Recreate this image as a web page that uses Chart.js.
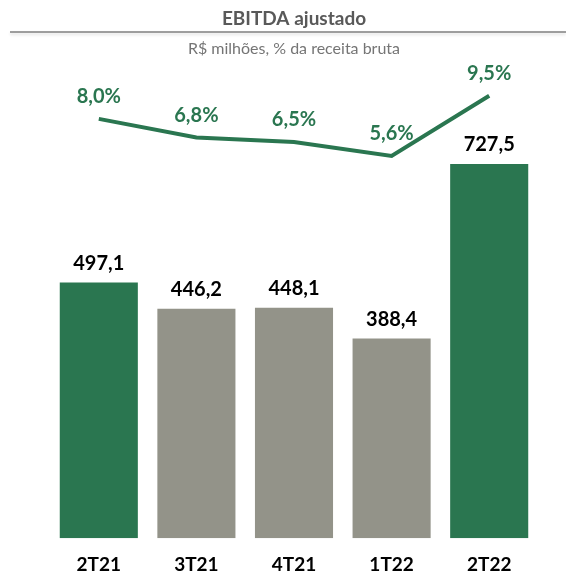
<!DOCTYPE html>
<html>
<head>
<meta charset="utf-8">
<script src="https://cdn.jsdelivr.net/npm/chart.js@4.4.0/dist/chart.umd.min.js"></script>
<style>
  html, body { margin: 0; padding: 0; background: #fff; }
  #wrap { width: 566px; height: 580px; }
</style>
</head>
<body>
<div id="wrap"><canvas id="ebitdaChart"></canvas></div>
<script>
(function(){
  // chart data
  const quarters = ['2T21', '3T21', '4T21', '1T22', '2T22'];
  const ebitda = [497.1, 446.2, 448.1, 388.4, 727.5];
  const margin = [8.0, 6.8, 6.5, 5.6, 9.5];

  const GREEN = '#2a7650';
  const GRAY = '#939389';
  const FONT = 'Lato, "Open Sans", sans-serif';

  const barColors = quarters.map(q => (q.startsWith('2T') ? GREEN : GRAY));

  function fmt(v, dec) {
    return v.toFixed(dec).replace('.', ',');
  }

  // draws the value above each bar / line point
  const valueLabels = {
    id: 'valueLabels',
    afterDatasetsDraw(chart) {
      const ctx = chart.ctx;
      ctx.save();
      ctx.textAlign = 'center';
      ctx.textBaseline = 'middle';
      chart.data.datasets.forEach((ds, i) => {
        const meta = chart.getDatasetMeta(i);
        meta.data.forEach((el, j) => {
          const v = ds.data[j];
          if (ds.type === 'line') {
            ctx.fillStyle = GREEN;
            ctx.font = 'bold 20px ' + FONT;
            ctx.fillText(fmt(v, 1) + '%', el.x, el.y - 22);
          } else {
            ctx.fillStyle = '#000';
            ctx.font = 'bold 20px ' + FONT;
            ctx.fillText(fmt(v, 1), el.x, el.y - 19);
          }
        });
      });
      ctx.restore();
    }
  };

  // rule under the title
  const titleRule = {
    id: 'titleRule',
    beforeDraw(chart) {
      const ctx = chart.ctx;
      ctx.save();
      ctx.shadowColor = 'rgba(0,0,0,0.15)';
      ctx.shadowBlur = 3;
      ctx.shadowOffsetY = 2;
      ctx.strokeStyle = '#7f7f7f';
      ctx.lineWidth = 1.5;
      ctx.beginPath();
      ctx.moveTo(10, 32);
      ctx.lineTo(chart.width, 32);
      ctx.stroke();
      ctx.restore();
    }
  };

  const ctx = document.getElementById('ebitdaChart').getContext('2d');
  new Chart(ctx, {
    data: {
      labels: quarters,
      datasets: [
        {
          type: 'line',
          label: '% da receita bruta',
          data: margin,
          yAxisID: 'yPct',
          borderColor: GREEN,
          borderWidth: 4,
          pointRadius: 0,
          tension: 0,
          order: 0
        },
        {
          type: 'bar',
          label: 'EBITDA ajustado',
          data: ebitda,
          yAxisID: 'yVal',
          backgroundColor: barColors,
          barPercentage: 0.8,
          categoryPercentage: 1,
          order: 1
        }
      ]
    },
    options: {
      responsive: true,
      maintainAspectRatio: false,
      animation: false,
      layout: { padding: { left: 50, right: 28, top: 0, bottom: -11 } },
      plugins: {
        legend: { display: false },
        tooltip: { enabled: false },
        title: {
          display: true,
          fullSize: false,
          text: 'EBITDA ajustado',
          color: '#595959',
          font: { family: FONT, size: 19, weight: 'bold' },
          padding: { top: 7, bottom: 6 }
        },
        subtitle: {
          display: true,
          fullSize: false,
          text: 'R$ milhões, % da receita bruta',
          color: '#757575',
          font: { family: FONT, size: 16 },
          padding: { top: 3, bottom: 9 }
        }
      },
      scales: {
        x: {
          grid: { display: false, drawTicks: false },
          border: { display: false },
          ticks: {
            color: '#000',
            padding: 15,
            font: { family: FONT, size: 19, weight: 'bold' }
          }
        },
        yVal: {
          display: false,
          min: 0,
          max: 916
        },
        yPct: {
          display: false,
          min: -19.16,
          max: 11.36
        }
      }
    },
    plugins: [valueLabels, titleRule]
  });
})();
</script>
</body>
</html>
